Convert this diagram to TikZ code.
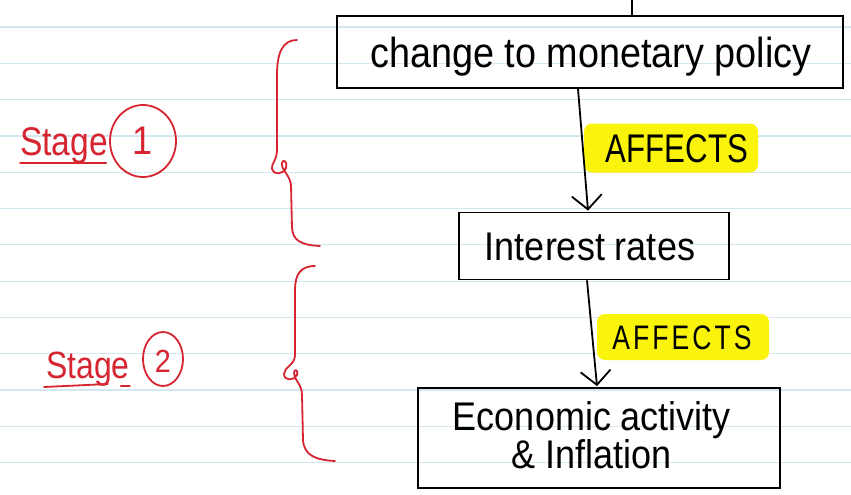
\documentclass[tikz,border=0pt]{standalone}
\usepackage{fontspec}
\setmainfont{Liberation Sans}
\newfontfamily\handfont[FakeStretch=0.9]{Liberation Sans}
\newfontfamily\stagefont[FakeStretch=0.84]{Liberation Sans}
\newfontfamily\narrowfont[FakeStretch=0.78]{Liberation Sans}
\usetikzlibrary{arrows.meta,shapes.geometric}
\definecolor{ruleblue}{RGB}{212,230,240}
\definecolor{inkred}{RGB}{214,36,48}
\definecolor{marker}{RGB}{250,244,12}
\begin{document}
\begin{tikzpicture}[x=1pt,y=-1pt,
  ink/.style={line width=1.8pt,black},
  redink/.style={line width=1.8pt,inkred,line cap=round,line join=round},
  flowbox/.style={draw=black,line width=1.8pt,inner sep=0pt},
  flowtext/.style={font=\handfont\fontsize{42}{44}\selectfont,inner sep=0pt,anchor=base},
  highlight/.style={fill=marker,rounded corners=8pt,inner sep=0pt},
  arrowline/.style={ink,-{Straight Barb[length=14pt,width=30pt,line width=1.8pt]}},
  stagetext/.style={font=\stagefont\fontsize{40}{42}\selectfont,text=inkred,inner sep=0pt,anchor=base west},
  stagering/.style={ellipse,draw=inkred,line width=1.8pt,inner sep=0pt}]
\useasboundingbox (0,0) rectangle (851,495);
\fill[white] (0,0) rectangle (851,495);

% ruled notebook lines
\foreach \k in {0,...,12}
  \draw[ruleblue,line width=1.2pt] (0,27+36.3*\k) -- (851,27+36.3*\k);

% boxes of the chain
\node[flowbox,minimum width=506pt,minimum height=72pt] (b1) at (590,52) {};
\node[flowbox,minimum width=270pt,minimum height=67pt] (b2) at (594,246) {};
\node[flowbox,minimum width=362pt,minimum height=100pt] (b3) at (599,438) {};

\node[flowtext] (t1) at (591,67) {change to monetary policy};
\node[flowtext,font=\handfont\fontsize{40}{42}\selectfont] (t2) at (590,260) {Interest rates};
\node[font=\handfont\fontsize{40}{36}\selectfont,inner sep=0pt,align=center] (t3) at (592,435)
  {Economic activity\\\& Inflation};

% highlighted labels
\node[highlight,minimum width=174pt,minimum height=49pt] (h1) at (671,148) {};
\node[font=\narrowfont\fontsize{40}{42}\selectfont,inner sep=0pt,anchor=base] (l1) at (677,162) {AFFECTS};
\node[highlight,minimum width=172pt,minimum height=46pt] (h2) at (683,337) {};
\node[font=\narrowfont\fontsize{34}{36}\selectfont\addfontfeatures{LetterSpace=9},inner sep=0pt,anchor=base] (l2) at (682,349) {AFFECTS};

% connectors
\coordinate (top) at (632,0);
\draw[ink] ([xshift=42pt]b1.north) -- (top);
\draw[arrowline] ([xshift=-12pt]b1.south) -- ([xshift=-6pt,yshift=1pt]b2.north);
\draw[arrowline] ([xshift=-7pt]b2.south) -- ([xshift=-2pt,yshift=1pt]b3.north);

% stage labels
\node[stagetext] (s1) at (20,155) {Stage};
\node[stagering,minimum width=66pt,minimum height=72pt] (c1) at (143,141) {};
\node[font=\handfont\fontsize{40}{42}\selectfont,text=inkred,inner sep=0pt] (n1) at (143,141) {1};
\draw[redink] ([yshift=-8pt]s1.base west) -- ([xshift=-2pt,yshift=-8pt]s1.base east);

\node[stagetext,font=\stagefont\fontsize{38}{40}\selectfont] (s2) at (46,378) {Stage};
\node[stagering,minimum width=40pt,minimum height=54pt] (c2) at (163,359) {};
\node[font=\handfont\fontsize{32}{34}\selectfont,text=inkred,inner sep=0pt] (n2) at (163,361) {2};
\draw[redink] ([xshift=-2pt,yshift=-9pt]s2.base west) -- ([xshift=-22pt,yshift=-6pt]s2.base east);
\draw[redink] ([xshift=-9pt,yshift=-8pt]s2.base east) -- ([xshift=0pt,yshift=-8pt]s2.base east);

% curly braces
\draw[redink] (297,40) .. controls (283,40) and (277,52) .. (277,75) -- (277,150)
  .. controls (277,160) and (271,164) .. (272,169)
  .. controls (273,175) and (283,175) .. (286,168)
  .. controls (288,162) and (283,158) .. (282,163)
  .. controls (281,170) and (290,175) .. (291,185) -- (292,228)
  .. controls (293,240) and (300,245) .. (320,246);
\draw[redink] (315,266) .. controls (300,266) and (295,275) .. (295,290) -- (295,355)
  .. controls (295,365) and (284,367) .. (284,374)
  .. controls (284,381) and (294,381) .. (297,375)
  .. controls (299,370) and (294,368) .. (294,373)
  .. controls (294,380) and (302,384) .. (302,395) -- (303,440)
  .. controls (304,455) and (315,460) .. (335,461);
\end{tikzpicture}
\end{document}
